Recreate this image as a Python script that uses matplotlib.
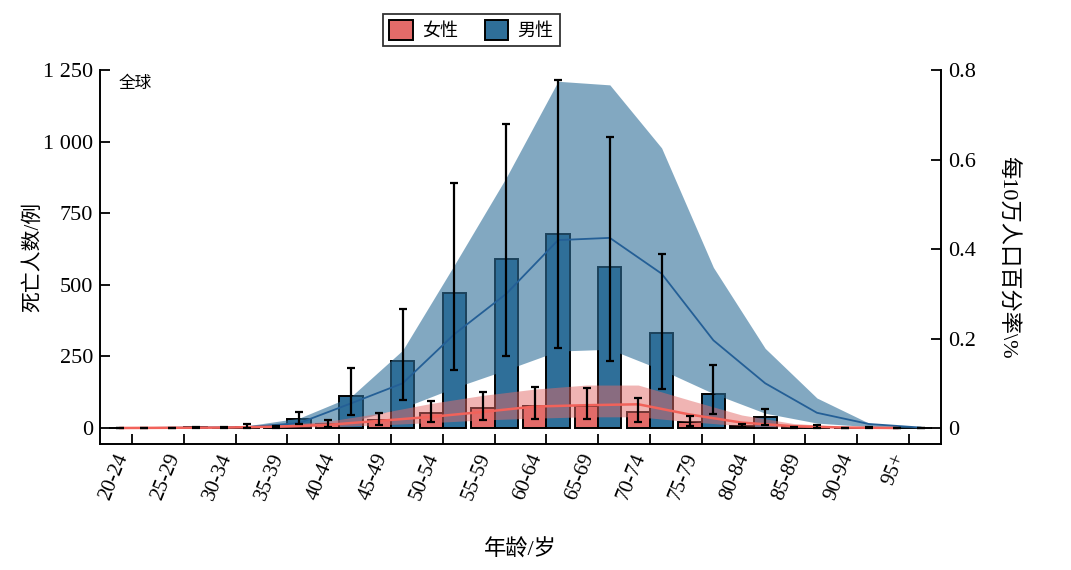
import numpy as np
import matplotlib
matplotlib.use('Agg')
import matplotlib.pyplot as plt
from matplotlib.patches import Patch

plt.rcParams['font.family'] = ['Liberation Serif', 'Noto Sans CJK SC']
plt.rcParams['axes.unicode_minus'] = False

# 年龄组
ages = ['20-24', '25-29', '30-34', '35-39', '40-44', '45-49', '50-54', '55-59',
        '60-64', '65-69', '70-74', '75-79', '80-84', '85-89', '90-94', '95+']

# 死亡人数（左轴）
female_deaths = [0, 0.5, 1, 3, 14, 28, 52, 70, 77, 77, 56, 21, 8, 2, 0.5, 0]
female_low = [0, 0, 0.5, 1, 2, 10, 21, 28, 31, 31, 21, 7, 3, 1, 0, 0]
female_high = [0, 1, 2, 6, 28, 52, 94, 126, 143, 140, 105, 42, 14, 4, 1, 0]
male_deaths = [1, 2, 4, 31, 112, 234, 471, 590, 677, 562, 332, 119, 38, 5, 1, 0.5]
male_low = [0, 1, 1, 14, 45, 98, 203, 251, 280, 234, 136, 49, 10, 1, 0, 0]
male_high = [1, 4, 14, 56, 209, 415, 855, 1062, 1215, 1016, 608, 220, 68, 10, 2, 1]

# 每10万人口百分率（右轴）
female_rate = [0, 0.0005, 0.001, 0.003, 0.007, 0.016, 0.025, 0.036, 0.048, 0.051, 0.053, 0.030, 0.012, 0.004, 0.001, 0]
female_rate_low = [0, 0, 0.0003, 0.001, 0.003, 0.007, 0.012, 0.018, 0.022, 0.025, 0.025, 0.014, 0.005, 0.0015, 0.0003, 0]
female_rate_high = [0, 0.001, 0.002, 0.006, 0.015, 0.033, 0.055, 0.073, 0.087, 0.096, 0.096, 0.062, 0.029, 0.010, 0.003, 0]
male_rate = [0, 0.001, 0.002, 0.011, 0.055, 0.100, 0.210, 0.300, 0.420, 0.425, 0.345, 0.196, 0.100, 0.034, 0.009, 0.001]
male_rate_low = [0, 0, 0.001, 0.004, 0.015, 0.045, 0.090, 0.130, 0.172, 0.176, 0.130, 0.077, 0.033, 0.011, 0.003, 0]
male_rate_high = [0, 0.002, 0.005, 0.022, 0.070, 0.174, 0.365, 0.560, 0.775, 0.767, 0.626, 0.359, 0.178, 0.067, 0.011, 0]

yticks = [0, 250, 500, 750, 1000, 1250]
ytick_labels = ['0', '250', '500', '750', '1 000', '1 250']
rticks = [0, 0.2, 0.4, 0.6, 0.8]
rtick_labels = ['0', '0.2', '0.4', '0.6', '0.8']

red = '#e36b69'
blue = '#2f6f99'

x = np.arange(len(ages))
w = 0.45
xf = x - w / 2
xm = x + w / 2

fig = plt.figure(figsize=(10.71, 5.7), dpi=100)
ax = fig.add_axes([0.0934, 0.221, 0.7852, 0.656])

ax.bar(xf, female_deaths, w, color=red, edgecolor='black', linewidth=1.4)
ax.bar(xm, male_deaths, w, color=blue, edgecolor='black', linewidth=1.4)

ax.set_xlim(-0.62, len(ages) - 1 + 0.62)
ax.set_ylim(-56, 1250)
ax.set_yticks(yticks)
ax.set_yticklabels(ytick_labels)
ax.set_xticks(x)
ax.set_xticklabels(ages, rotation=68, ha='right')
ax.tick_params(axis='y', direction='in', length=7, width=1.3, labelsize=16, pad=5)
ax.tick_params(axis='x', direction='in', length=7, width=1.3, labelsize=15, pad=5)
for s in ['top', 'right']:
    ax.spines[s].set_visible(False)
for s in ['left', 'bottom']:
    ax.spines[s].set_linewidth(1.4)
ax.set_ylabel('死亡人数/例', fontsize=15, labelpad=0)
ax.set_xlabel('年龄/岁', fontsize=16, labelpad=26)
ax.text(0.022, 0.985, '全球', transform=ax.transAxes, fontsize=12, va='top', ha='left')

# 右轴：百分率
ax2 = ax.twinx()
ax2.fill_between(xm, male_rate_low, male_rate_high, color=blue, alpha=0.6, linewidth=0)
ax2.fill_between(xf, female_rate_low, female_rate_high, color=red, alpha=0.5, linewidth=0)
ax2.plot(xm, male_rate, color='#245f96', linewidth=1.3)
ax2.plot(xf, female_rate, color='#f2625a', linewidth=1.8)
ax2.set_ylim(-0.8 * 56 / 1250, 0.8)
ax2.set_yticks(rticks)
ax2.set_yticklabels(rtick_labels)
ax2.tick_params(axis='y', direction='in', length=7, width=1.3, labelsize=16, pad=5)
ax2.spines['top'].set_visible(False)
ax2.spines['right'].set_linewidth(1.4)
ax2.spines['left'].set_visible(False)
ax2.spines['bottom'].set_visible(False)
ax2.set_ylabel('每10万人口百分率\\%', fontsize=16, rotation=270, labelpad=30)

# 误差线
ax3 = ax.twinx()
ax3.set_ylim(ax.get_ylim())
ax3.axis('off')
fd = np.array(female_deaths)
md = np.array(male_deaths)
ax3.errorbar(xf, fd, yerr=[fd - np.array(female_low), np.array(female_high) - fd],
             fmt='none', ecolor='black', elinewidth=1.6, capsize=3.2, capthick=1.6)
ax3.errorbar(xm, md, yerr=[md - np.array(male_low), np.array(male_high) - md],
             fmt='none', ecolor='black', elinewidth=1.6, capsize=3.2, capthick=1.6)

handles = [Patch(facecolor=red, edgecolor='black', linewidth=1.4, label='女性'),
           Patch(facecolor=blue, edgecolor='black', linewidth=1.4, label='男性')]
leg = fig.legend(handles=handles, loc='center', bbox_to_anchor=(0.44, 0.947), ncol=2,
                 fontsize=13, frameon=True, fancybox=False, edgecolor='black',
                 handlelength=1.3, handleheight=1.3, columnspacing=1.5, borderpad=0.35,
                 handletextpad=0.5)
leg.get_frame().set_linewidth(1.3)

fig.savefig('out.png', dpi=100)
